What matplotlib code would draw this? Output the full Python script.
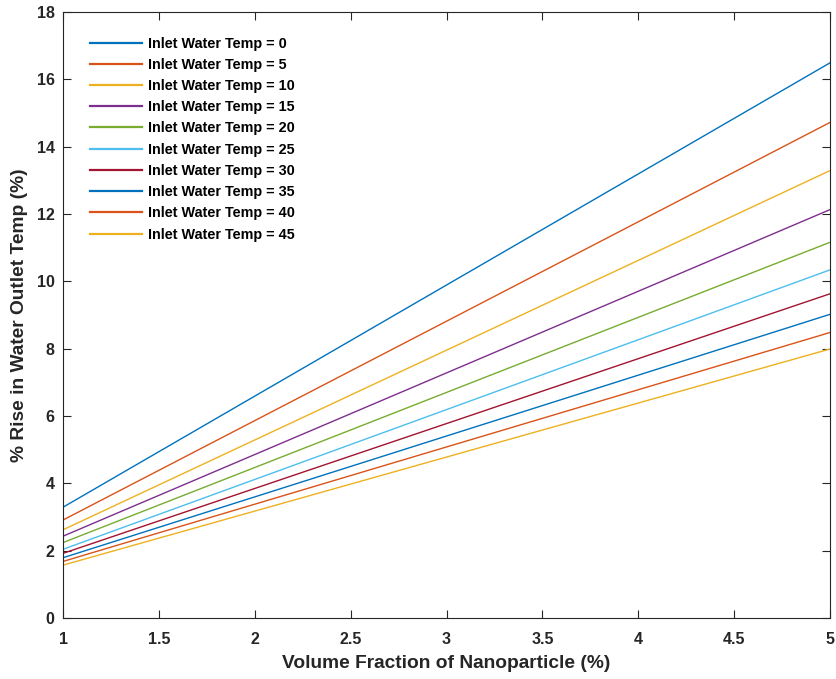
import matplotlib
matplotlib.use('Agg')
import matplotlib.pyplot as plt

# ---- data ---------------------------------------------------------------------
vol_frac = [1, 5]
inlet_temps = [0, 5, 10, 15, 20, 25, 30, 35, 40, 45]
rise_pct = [
    [3.29, 16.49],
    [2.91, 14.72],
    [2.62, 13.29],
    [2.43, 12.13],
    [2.24, 11.16],
    [2.04, 10.34],
    [1.92, 9.63],
    [1.79, 9.02],
    [1.68, 8.48],
    [1.57, 7.99],
]

# MATLAB default colour order
COLORS = ['#0072BD', '#D95319', '#EDB120', '#7E2F8E', '#77AC30',
          '#4DBEEE', '#A2142F']

plt.rcParams['font.family'] = ['Liberation Sans', 'DejaVu Sans']
plt.rcParams['font.weight'] = 'bold'

fig = plt.figure(figsize=(8.36, 6.79), dpi=100)
ax = fig.add_axes([63 / 836, 1 - 618 / 679, (830 - 63) / 836, (618 - 12) / 679])

for i, (t, vals) in enumerate(zip(inlet_temps, rise_pct)):
    ax.plot(vol_frac, vals, color=COLORS[i % len(COLORS)], lw=1.0,
            label=f'Inlet Water Temp = {t}')

ax.set_xlim(1, 5)
ax.set_ylim(0, 18)
ax.set_xticks([1, 1.5, 2, 2.5, 3, 3.5, 4, 4.5, 5])
ax.set_xticklabels(['1', '1.5', '2', '2.5', '3', '3.5', '4', '4.5', '5'])
ax.set_yticks(range(0, 19, 2))
ax.tick_params(direction='in', top=True, right=True, length=6, width=0.8,
               labelsize=11.5, colors='#262626')
ax.tick_params(axis='x', pad=10)
ax.tick_params(axis='y', pad=6)
for s in ax.spines.values():
    s.set_color('#262626')
    s.set_linewidth(0.8)

ax.set_xlabel('Volume Fraction of Nanoparticle (%)', fontsize=13.8,
              fontweight='bold', color='#262626', labelpad=6)
ax.set_ylabel('% Rise in Water Outlet Temp (%)', fontsize=13.8,
              fontweight='bold', color='#262626', labelpad=6)

leg = ax.legend(loc='upper left', bbox_to_anchor=(0.012, 0.988), frameon=False,
                fontsize=10.4, handlelength=3.6, handletextpad=0.45,
                labelspacing=0.5, borderaxespad=0.8)
for h in leg.get_lines():
    h.set_linewidth(1.6)

fig.savefig('out.png', dpi=100)
